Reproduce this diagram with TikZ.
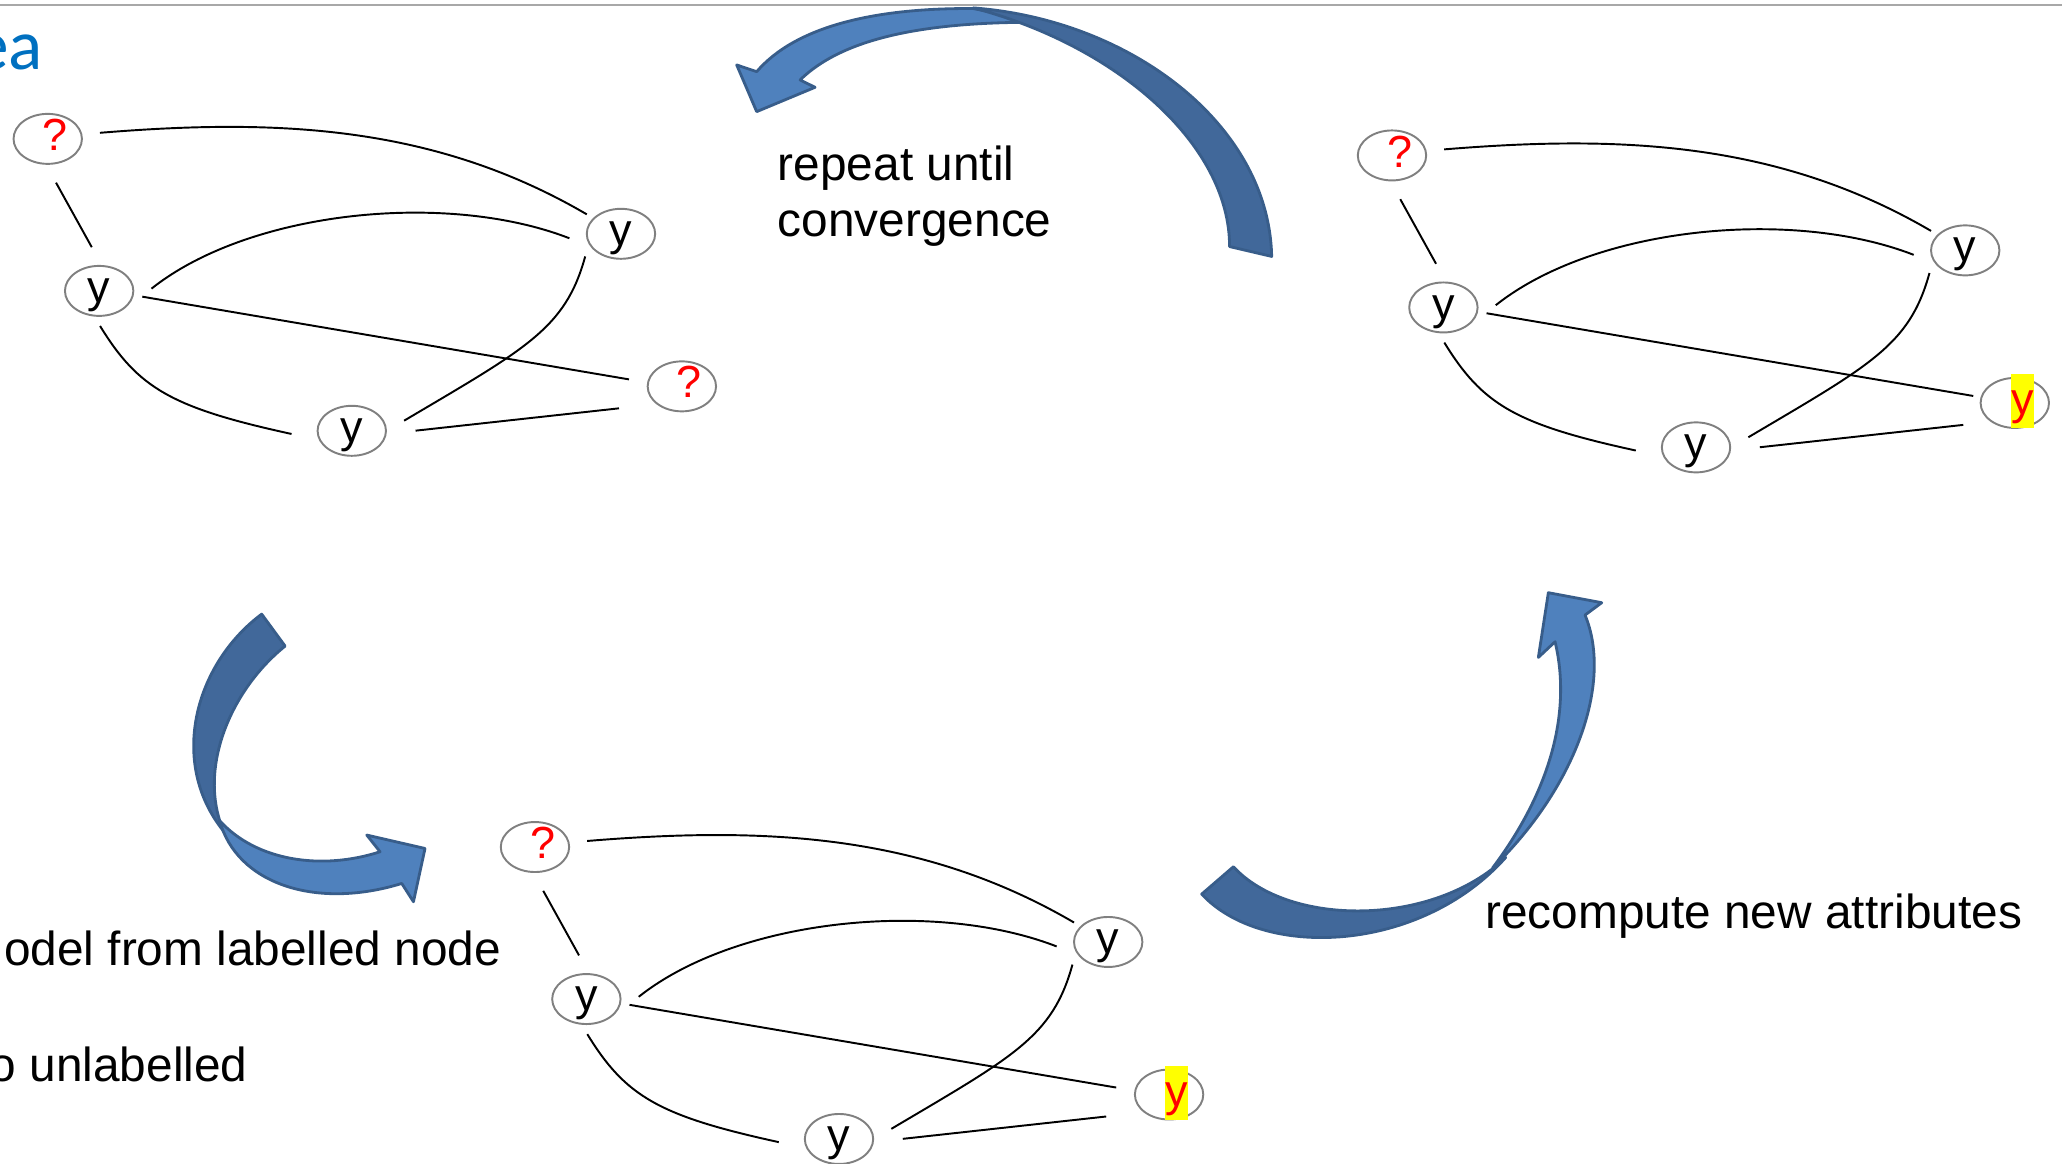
\documentclass[tikz,border=0pt]{standalone}
\usepackage{fontspec}
\setmainfont{Liberation Sans}
\newfontfamily\titlefont{Carlito}
\usepackage{tikz}
\usetikzlibrary{shapes.geometric,calc}

\definecolor{arrowlight}{HTML}{4F81BD}
\definecolor{arrowdark}{HTML}{41689A}
\definecolor{arrowline}{HTML}{385D8A}
\definecolor{titleblue}{HTML}{0070C0}
\definecolor{qred}{HTML}{FF0000}
\definecolor{hlyellow}{HTML}{FFFF00}
\definecolor{ringgray}{HTML}{808080}
\definecolor{rulegray}{HTML}{A8A8A8}

% labels of the graph nodes
\newcommand{\qm}{\hspace{4.3pt}\textcolor{qred}{?}}
\newcommand{\hly}{\hspace{4.3pt}{\setlength{\fboxsep}{0pt}\colorbox{hlyellow}{\rule[-0.31em]{0pt}{1.21em}\textcolor{qred}{y}}}}

\begin{document}
\begin{tikzpicture}[x=0.01315cm, y=-0.01315cm,
    vtx/.style={ellipse, draw=ringgray, line width=0.55pt, minimum width=0.684cm,
        minimum height=0.5cm, inner sep=0pt, text height=0.66em, text depth=0pt,
        font=\fontsize{12.8pt}{15pt}\selectfont},
    edge/.style={line width=0.55pt},
    bodytext/.style={font=\fontsize{13.6pt}{16pt}\selectfont, inner sep=0pt},
    lightpart/.style={fill=arrowlight, draw=arrowline, line width=0.8pt, line join=round},
    darkpart/.style={fill=arrowdark, draw=arrowline, line width=0.8pt, line join=round}]
\useasboundingbox (0,0) rectangle (1568,885);
\clip (0,0) rectangle (1568,885);

\draw[rulegray, line width=0.45pt] (0,3.8) -- (1568,3.8);
\node[anchor=base east, inner sep=0pt, text=titleblue,
    font=\titlefont\fontsize{20.3pt}{24pt}\selectfont] (title) at (33.2,53.2) {ea};

% the three graphs
\foreach \g/\gx/\gy/\dd/\lab in {1/0/0/0/\qm, 2/1022.2/12.6/8.6/\hly, 3/370.5/538.5/0/\hly} {
    \node[vtx] (a\g) at (\gx+36.3,\gy+105.6) {\qm};
    \node[vtx] (b\g) at (\gx+75.4,\gy+221.2) {y};
    \node[vtx] (c\g) at (\gx+472.2,\gy+177.8) {y};
    \node[vtx] (d\g) at (\gx+518.5-\dd,\gy+293.8) {\lab};
    \node[vtx] (e\g) at (\gx+267.5,\gy+327.6) {y};
    \draw[edge] ($(a\g)+(39.7,-4.6)$) .. controls ($(a\g)+(173.7,-15.6)$) and ($(c\g)+(-142.2,-82.8)$) .. ($(c\g)+(-26,-14.8)$);
    \draw[edge] ($(a\g)+(6.3,33.3)$) -- ($(b\g)+(-5.6,-33.2)$);
    \draw[edge] ($(b\g)+(39.8,-1.7)$) .. controls ($(b\g)+(114.6,-61.2)$) and ($(c\g)+(-132.2,-32.8)$) .. ($(c\g)+(-39.2,3.4)$);
    \draw[edge] ($(b\g)+(32.8,4.4)$) -- ($(d\g)+(-40.2+\dd,-5.3)$);
    \draw[edge] ($(b\g)+(0.7,26.7)$) .. controls ($(b\g)+(29.6,73.8)$) and ($(e\g)+(-137.5,-17.6)$) .. ($(e\g)+(-45.8,2.4)$);
    \draw[edge] ($(c\g)+(-27.2,17.2)$) .. controls ($(c\g)+(-42.2,72.2)$) and ($(e\g)+(132.5,-62.6)$) .. ($(e\g)+(39.8,-7.7)$);
    \draw[edge] ($(e\g)+(48.5,-0.1)$) -- ($(d\g)+(-47.8+\dd,16.7)$);
}

% curved arrows
\draw[lightpart] (575.4,54.5) .. controls (605,20) and (665,6) .. (740,6.5) -- (795,17)
    .. controls (700,16) and (640,30) .. (608.4,60.8) -- (619.8,66.4) -- (575.4,84.9) -- (560.2,49.4) -- cycle;
\draw[darkpart] (740,6) .. controls (860,15) and (965,95) .. (967,195) -- (935,187.5)
    .. controls (935,110) and (850,35) .. (740,6) -- cycle;

\draw[darkpart] (199,467) .. controls (148,505) and (128,580) .. (170,632)
    .. controls (150,585) and (175,525) .. (216.8,491.3) -- cycle;
\draw[lightpart] (167,624) .. controls (180,672) and (240,692) .. (305.5,671.8) -- (314.4,685.7)
    -- (323.2,645.2) -- (278.9,635) -- (289,647.7) .. controls (245,662) and (195,655) .. (167,624) -- cycle;

\draw[darkpart] (913.8,679.9) .. controls (960,730) and (1080,725) .. (1145,652)
    .. controls (1090,705) and (980,705) .. (937.9,659.1) -- cycle;
\draw[lightpart] (1135,660) .. controls (1197,600) and (1227,520) .. (1205.3,467.7) -- (1218,458.3)
    -- (1177.4,450.7) -- (1169.8,499.9) -- (1182.5,488) .. controls (1195,540) and (1180,600) .. (1135,660) -- cycle;

% texts
\node[bodytext, anchor=base west] (rep) at (591,137.4) {repeat until};
\node[bodytext, anchor=base west] (conv) at (591,179.8) {convergence};
\node[bodytext, anchor=base west] (recomp) at (1129,706) {recompute new attributes};
\node[bodytext, anchor=base east] (model) at (381.5,734.3) {odel from labelled node};
\node[bodytext, anchor=base east] (unlab) at (188.8,822.5) {o unlabelled};
\end{tikzpicture}
\end{document}
